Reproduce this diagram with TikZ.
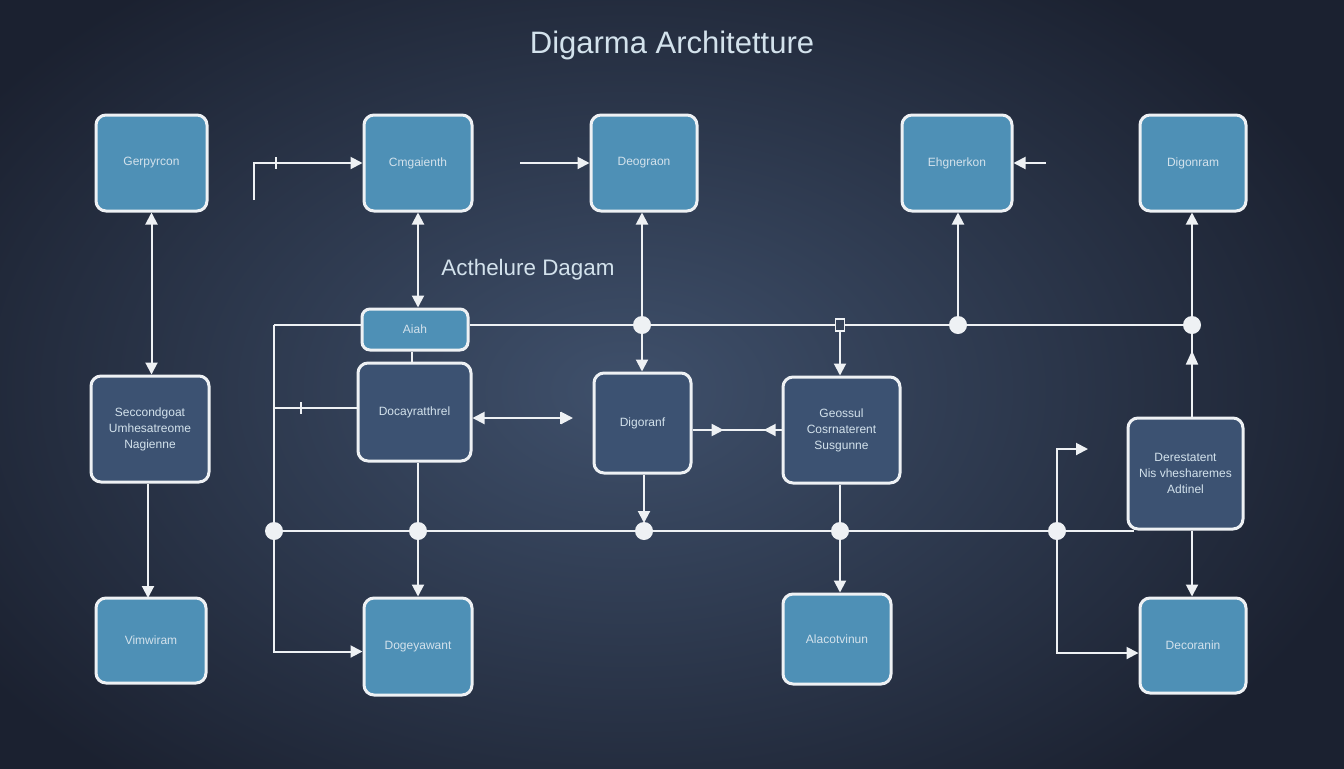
\documentclass[tikz,border=0pt]{standalone}
\usepackage{fontspec}
\setmainfont{Liberation Sans}
\usetikzlibrary{arrows.meta,decorations.markings,calc}
\definecolor{bgdark}{HTML}{1B2130}
\definecolor{bgmid}{HTML}{3F506B}
\definecolor{boxlight}{HTML}{4E90B6}
\definecolor{boxdark}{HTML}{3C5272}
\definecolor{wline}{HTML}{EEF1F4}
\definecolor{txtlight}{HTML}{D3E2EC}
\tikzset{
  x=0.5pt, y=-0.5pt,
  lbox/.style={draw=wline, line width=1.5pt, rounded corners=5pt, fill=boxlight,
    text=txtlight, font=\fontsize{6}{8}\selectfont, align=center, inner sep=0pt},
  dbox/.style={lbox, fill=boxdark},
  conn/.style={draw=wline, line width=1pt},
  arr/.style={conn, -{Triangle[length=6pt,width=6pt]}},
  barr/.style={conn, {Triangle[length=6pt,width=6pt]}-{Triangle[length=6pt,width=6pt]}},
  dot/.style={circle, fill=wline, minimum size=9pt, inner sep=0pt},
  tickmark/.style={fill=wline, minimum width=1pt, minimum height=6pt, inner sep=0pt, sloped},
}
\begin{document}
\begin{tikzpicture}
\useasboundingbox (0,0) rectangle (1344,768);
\fill[bgdark] (0,0) rectangle (1344,768);
\shade[inner color=bgmid, outer color=bgdark] (-150,-120) rectangle (1400,900);

% titles
\node[text=txtlight, font=\fontsize{15.5}{18}\selectfont] (title) at (672,45) {Digarma Architetture};
\node[text=txtlight, font=\fontsize{11.2}{13}\selectfont] (sub) at (528,270) {Acthelure Dagam};

% top row
\node[lbox, minimum width=55.5pt, minimum height=48pt] (g1) at (151.5,163) {Gerpyrcon};
\node[lbox, minimum width=54pt, minimum height=48pt] (g2) at (418,163) {Cmgaienth};
\node[lbox, minimum width=53pt, minimum height=48pt] (g3) at (644,163) {Deograon};
\node[lbox, minimum width=55pt, minimum height=48pt] (g4) at (957,163) {Ehgnerkon};
\node[lbox, minimum width=53pt, minimum height=48pt] (g5) at (1193,163) {Digonram};

% middle row
\node[lbox, minimum width=53pt, minimum height=20.5pt, rounded corners=4pt] (aiah) at (415,329.5) {Aiah};
\node[dbox, minimum width=59pt, minimum height=53pt] (lb) at (150,429) {Seccondgoat\\Umhesatreome\\Nagienne};
\node[dbox, minimum width=56.5pt, minimum height=49pt] (doc) at (414.5,412) {Docayratthrel};
\node[dbox, minimum width=48.5pt, minimum height=50pt] (dig) at (642.5,423) {Digoranf};
\node[dbox, minimum width=58.5pt, minimum height=53pt] (geo) at (841.5,430) {Geossul\\Cosrnaterent\\Susgunne};
\node[dbox, minimum width=57.5pt, minimum height=55.5pt] (rb) at (1185.5,473.5) {Derestatent\\Nis vhesharemes\\Adtinel};

% bottom row
\node[lbox, minimum width=55pt, minimum height=42.5pt] (v1) at (151,640.5) {Vimwiram};
\node[lbox, minimum width=54pt, minimum height=48.5pt] (v2) at (418,646.5) {Dogeyawant};
\node[lbox, minimum width=54pt, minimum height=45pt] (v3) at (837,639) {Alacotvinun};
\node[lbox, minimum width=53pt, minimum height=47.5pt] (v4) at (1193,645.5) {Decoranin};

% junctions and free ends
\coordinate (L1) at (274,325);
\coordinate (L3) at (274,408);
\coordinate (t0) at (254,200);
\coordinate (a1) at (520,163);
\coordinate (a2) at (1046,163);
\coordinate (da) at (573,418);
\coordinate (up2) at (1088,449);
\coordinate (busend) at (1134,531);
\node[draw=wline, line width=0.8pt, minimum width=4.5pt, minimum height=6pt, inner sep=0pt] (icon) at (840,325) {};

% top bus
\draw[conn] (L1) -- (L1 -| aiah.west);
\draw[conn] (aiah.east |- L1) -- (icon.west);
\draw[conn] (icon.east) -- (1192,325);
% left trunk
\draw[conn] (L1) -- (274,531);
\draw[arr] (274,531) |- ([yshift=-2.5pt]v2.west);
\draw[conn] (L3) -- node[tickmark, pos=0.33] {} (L3 -| doc.west);
% bottom bus
\draw[conn] (274,531) -- (busend);

% vertical links
\draw[barr] (g1.south) -- (g1.south |- lb.north);
\draw[arr] (lb.south -| 148,0) -- (148,598);
\draw[barr] (g2.south) -- (g2.south |- aiah.north);
\draw[conn] (aiah.south -| 412,0) -- (412,363);
\draw[conn] (doc.south -| 418,0) -- (418,531);
\draw[arr] (418,531) -- node[tickmark, pos=0.55, rotate=90] {} (v2.north);
\draw[arr] (642,325) -- node[tickmark, pos=0.85, rotate=90, minimum height=8pt] {} (g3.south -| 642,0);
\draw[arr] (642,325) -- (dig.north -| 642,0);
\draw[arr] (dig.south -| 644,0) -- (644,523);
\draw[arr] (icon.south) -- (geo.north -| 840,0);
\draw[conn] (geo.south -| 840,0) -- (840,531);
\draw[arr] (840,531) -- (v3.north -| 840,0);
\draw[arr] (958,325) -- node[tickmark, pos=0.85, rotate=90, minimum height=7pt] {} (g4.south -| 958,0);
\draw[arr] (1192,325) -- (g5.south -| 1192,0);
\draw[conn, postaction={decorate}, decoration={markings, mark=at position 0.72 with {\arrow{Triangle[length=7pt,width=6pt]}}}] (rb.north -| 1192,0) -- (1192,325);
\draw[arr] (rb.south -| 1192,0) -- (v4.north -| 1192,0);
\draw[arr] (1057,531) |- (up2);
\draw[arr] (1057,531) |- ([yshift=-3.75pt]v4.west);

% horizontal links
\draw[arr] (t0) |- node[tickmark, pos=0.6] {} (g2.west);
\draw[arr] (a1) -- (g3.west);
\draw[arr] (a2) -- (g4.east);
\draw[barr] (doc.east |- da) -- node[tickmark, pos=0.88] {} (da);
\draw[conn, postaction={decorate}, decoration={markings,
   mark=at position 0.35 with {\arrow{Triangle[length=6pt,width=6pt]}},
   mark=at position 0.8 with {\arrowreversed{Triangle[length=6pt,width=6pt]}}}] (dig.east |- geo.west) -- (geo.west);

% dots
\node[dot] (j1) at (642,325) {};
\node[dot] (j2) at (958,325) {};
\node[dot] (j3) at (1192,325) {};
\node[dot] (b1) at (274,531) {};
\node[dot] (b2) at (418,531) {};
\node[dot] (b3) at (644,531) {};
\node[dot] (b4) at (840,531) {};
\node[dot] (b5) at (1057,531) {};
\end{tikzpicture}
\end{document}
